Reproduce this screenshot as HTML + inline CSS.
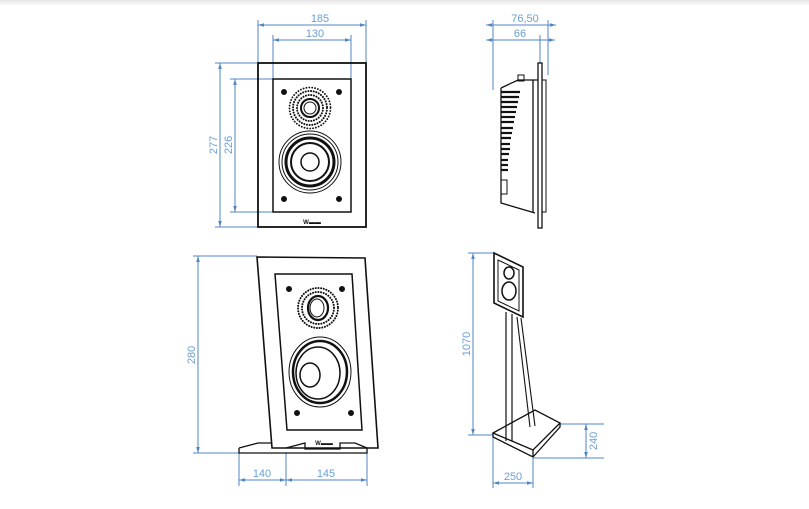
<!DOCTYPE html>
<html><head><meta charset="utf-8"><style>
html,body{margin:0;padding:0;background:#fff;}
svg{display:block}
text{font-family:"Liberation Sans",sans-serif;font-size:11px;fill:#6a9fd6}
</style></head><body>
<svg width="809" height="509" viewBox="0 0 809 509" xmlns="http://www.w3.org/2000/svg">
<defs>
<linearGradient id="tg" x1="0" y1="0" x2="0" y2="1"><stop offset="0" stop-color="#e4e4e4"/><stop offset="1" stop-color="#fff"/></linearGradient>
<marker id="a" viewBox="0 0 10 10" refX="10" refY="5" markerWidth="6" markerHeight="6" orient="auto-start-reverse"><path d="M0,2 L10,5 L0,8z" fill="#4f86c6"/></marker>
</defs>
<rect x="0" y="0" width="809" height="6" fill="url(#tg)"/>
<g stroke="#4f86c6" stroke-width="1" fill="none">
<line x1="258" y1="20" x2="258" y2="63"/><line x1="366" y1="20" x2="366" y2="63"/>
<line x1="273" y1="35" x2="273" y2="79"/><line x1="351" y1="35" x2="351" y2="79"/>
<line x1="258" y1="25" x2="366" y2="25" marker-start="url(#a)" marker-end="url(#a)"/>
<line x1="273" y1="40" x2="351" y2="40" marker-start="url(#a)" marker-end="url(#a)"/>
<line x1="215" y1="63" x2="258" y2="63"/><line x1="215" y1="227" x2="258" y2="227"/>
<line x1="230" y1="79" x2="273" y2="79"/><line x1="230" y1="212" x2="273" y2="212"/>
<line x1="220" y1="63" x2="220" y2="227" marker-start="url(#a)" marker-end="url(#a)"/>
<line x1="235" y1="79" x2="235" y2="212" marker-start="url(#a)" marker-end="url(#a)"/>
<line x1="493" y1="20" x2="493" y2="90"/><line x1="548" y1="20" x2="548" y2="75"/>
<line x1="540" y1="35" x2="540" y2="63"/>
<line x1="486" y1="25" x2="556" y2="25" marker-start="url(#a)" marker-end="url(#a)"/>
<line x1="486" y1="40" x2="555" y2="40" marker-start="url(#a)" marker-end="url(#a)"/>
<line x1="193" y1="256" x2="257" y2="256"/><line x1="193" y1="453" x2="239" y2="453"/>
<line x1="198" y1="256" x2="198" y2="453" marker-start="url(#a)" marker-end="url(#a)"/>
<line x1="239" y1="453" x2="239" y2="486"/><line x1="286" y1="453" x2="286" y2="486"/><line x1="367" y1="453" x2="367" y2="486"/>
<line x1="239" y1="480" x2="286" y2="480" marker-start="url(#a)" marker-end="url(#a)"/>
<line x1="286" y1="480" x2="367" y2="480" marker-start="url(#a)" marker-end="url(#a)"/>
<line x1="468" y1="253" x2="494" y2="253"/><line x1="468" y1="435" x2="493" y2="435"/>
<line x1="473" y1="253" x2="473" y2="435" marker-start="url(#a)" marker-end="url(#a)"/>
<line x1="560" y1="424" x2="604" y2="424"/><line x1="533" y1="458" x2="604" y2="458"/>
<line x1="586" y1="424" x2="586" y2="458" marker-start="url(#a)" marker-end="url(#a)"/>
<line x1="493" y1="435" x2="493" y2="488"/><line x1="533" y1="458" x2="533" y2="488"/>
<line x1="493" y1="483" x2="533" y2="483" marker-start="url(#a)" marker-end="url(#a)"/>
</g>
<text x="320" y="22" text-anchor="middle">185</text>
<text x="315" y="37" text-anchor="middle">130</text>
<text transform="translate(217,145) rotate(-90)" text-anchor="middle">277</text>
<text transform="translate(232,145) rotate(-90)" text-anchor="middle">226</text>
<text x="525" y="22" text-anchor="middle">76,50</text>
<text x="520" y="37" text-anchor="middle">66</text>
<text transform="translate(195,355) rotate(-90)" text-anchor="middle">280</text>
<text x="262" y="477" text-anchor="middle">140</text>
<text x="326" y="477" text-anchor="middle">145</text>
<text transform="translate(470,344) rotate(-90)" text-anchor="middle">1070</text>
<text transform="translate(597,441) rotate(-90)" text-anchor="middle">240</text>
<text x="513" y="480" text-anchor="middle">250</text>

<g stroke="#111" fill="none">
<rect x="258" y="63" width="108" height="164" stroke-width="1.8"/>
<rect x="273" y="79" width="78" height="133" stroke-width="1.5"/>
<circle cx="284" cy="92" r="2.5" fill="#111"/><circle cx="339" cy="92" r="2.5" fill="#111"/>
<circle cx="284" cy="199" r="2.5" fill="#111"/><circle cx="339" cy="199" r="2.5" fill="#111"/>
<circle cx="310" cy="108" r="13" stroke-width="2" stroke-dasharray="0.1 2.6" stroke-linecap="round"/>
<circle cx="310" cy="108" r="17" stroke-width="2" stroke-dasharray="0.1 2.6" stroke-linecap="round"/>
<circle cx="310" cy="108" r="20.5" stroke-width="1.8" stroke-dasharray="0.1 2.8" stroke-linecap="round"/>
<circle cx="310" cy="108" r="9" stroke-width="2"/><circle cx="310" cy="108" r="6" stroke-width="1"/>
<circle cx="310" cy="162" r="31" stroke-width="1"/>
<circle cx="310" cy="162" r="28" stroke-width="1"/>
<circle cx="310" cy="162" r="24" stroke-width="3"/>
<circle cx="310" cy="162" r="19" stroke-width="2"/>
<circle cx="310" cy="162" r="9" stroke-width="1.5"/>
<text x="312" y="224" text-anchor="middle" style="font-size:6px;fill:#111;stroke:none;font-weight:bold">W▬▬</text>

<rect x="538" y="63" width="4" height="165" stroke-width="1.3"/>
<path d="M501,88 L518,80 L538,80 M501,88 L501,203 L535,213 M533,80 L533,213" stroke-width="1.3"/>
<rect x="518" y="75" width="6" height="6" stroke-width="1"/>
<path d="M542,80 L546,80 L546,212 L542,212" stroke-width="1"/>
<g stroke-width="2.2">
<line x1="501" y1="92" x2="520" y2="92"/><line x1="501" y1="97" x2="519" y2="97"/><line x1="501" y1="102" x2="518" y2="102"/>
<line x1="501" y1="107" x2="517" y2="107"/><line x1="501" y1="112" x2="516" y2="112"/><line x1="501" y1="117" x2="515" y2="117"/>
<line x1="501" y1="122" x2="514" y2="122"/><line x1="501" y1="128" x2="513" y2="128"/><line x1="501" y1="133" x2="512" y2="133"/>
<line x1="501" y1="138" x2="511" y2="138"/><line x1="501" y1="144" x2="510" y2="144"/><line x1="501" y1="149" x2="510" y2="149"/>
<line x1="501" y1="154" x2="509" y2="154"/><line x1="501" y1="160" x2="508" y2="160"/><line x1="501" y1="165" x2="508" y2="165"/>
<line x1="501" y1="170" x2="508" y2="170"/>
</g>
<rect x="501" y="180" width="6" height="14" stroke-width="1"/>

<path d="M257,257 L365,258 L378,448 L272,448 Z" stroke-width="1.6"/>
<path d="M275,274 L352,274 L362,430 L287,430 Z" stroke-width="1.5"/>
<circle cx="289" cy="289" r="2.5" fill="#111"/><circle cx="342" cy="289" r="2.5" fill="#111"/>
<circle cx="297" cy="413" r="2.5" fill="#111"/><circle cx="351" cy="413" r="2.5" fill="#111"/>
<circle cx="318" cy="308" r="16" stroke-width="2" stroke-dasharray="0.1 2.6" stroke-linecap="round"/>
<circle cx="318" cy="308" r="20" stroke-width="2" stroke-dasharray="0.1 2.6" stroke-linecap="round"/>
<ellipse cx="318" cy="308" rx="10" ry="12" stroke-width="2.2"/><ellipse cx="317" cy="308" rx="7" ry="9" stroke-width="1"/>
<ellipse cx="320" cy="372" rx="31" ry="35" stroke-width="1"/>
<ellipse cx="320" cy="372" rx="27" ry="31" stroke-width="2.5"/>
<ellipse cx="318" cy="373" rx="22" ry="26" stroke-width="1.5"/>
<ellipse cx="310" cy="375" rx="10" ry="12" stroke-width="1.5"/>
<path d="M239,448 L239,453 L367,453 L367,448 M239,448 L258,443 L271,443 M286,448 L305,443 L305,449 L340,449 L340,443 L355,443 L367,448" stroke-width="1.3"/>
<text x="324" y="445" text-anchor="middle" style="font-size:6px;fill:#111;stroke:none;font-weight:bold">W▬▬</text>

<path d="M494,253 L523,267 L523,317 L494,303 Z" stroke-width="1.6"/>
<path d="M498,260 L519,270 L519,311 L498,301 Z" stroke-width="1"/>
<ellipse cx="509" cy="273" rx="5" ry="6" stroke-width="1.5"/>
<ellipse cx="509" cy="291" rx="7" ry="9" stroke-width="1.5"/>
<path d="M506,312 L506,441 M512,314 L512,441" stroke-width="1.2"/>
<path d="M517,317 L530,427 M521,318 L535,426" stroke-width="1.1"/>
<path d="M493,433 L535,410 L560,423 L533,450 Z" stroke-width="1.3"/>
<path d="M493,433 L493,437 L533,457 L560,427 L560,423 M533,450 L533,457" stroke-width="1.3"/>
</g>
</svg>
</body></html>
